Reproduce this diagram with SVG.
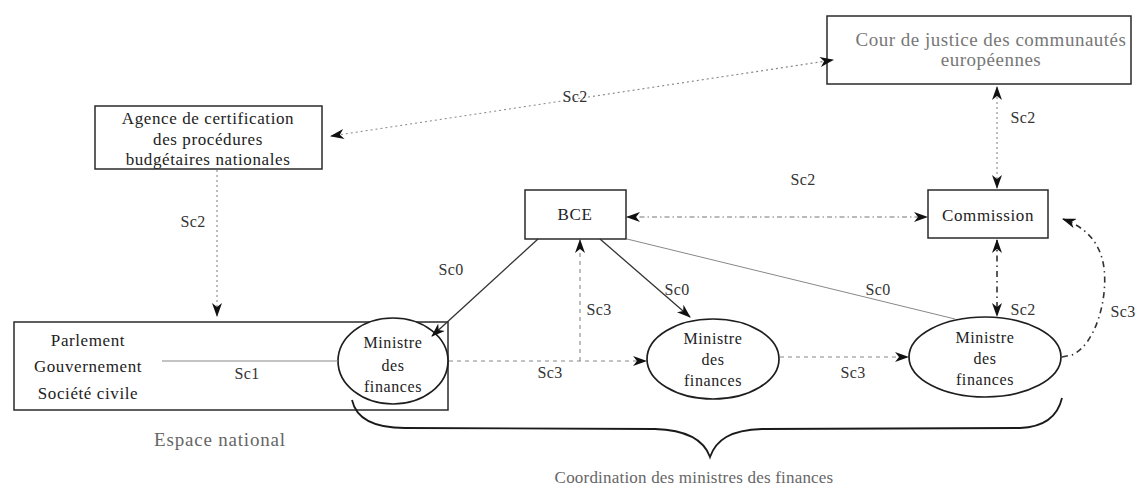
<svg xmlns="http://www.w3.org/2000/svg" width="1139" height="490" viewBox="0 0 1139 490" font-family="'Liberation Serif', serif">
<style>
.box{fill:#fff;stroke:#2a2a2a;stroke-width:1.5}
.ell{fill:#fff;stroke:#1e1e1e;stroke-width:1.7}
.t{font-family:"Liberation Serif",serif;font-size:17px;letter-spacing:0.6px;fill:#222;text-anchor:middle}
.te{font-family:"Liberation Serif",serif;font-size:16px;letter-spacing:0.6px;fill:#222;text-anchor:middle}
.lab{font-family:"Liberation Serif",serif;font-size:16px;letter-spacing:0.3px;fill:#333;text-anchor:middle}
.cap{font-family:"Liberation Serif",serif;fill:#666;text-anchor:middle}
.dot{fill:none;stroke:#888;stroke-width:1.1;stroke-dasharray:2 3}
.dash{fill:none;stroke:#888;stroke-width:1.1;stroke-dasharray:4 4}
.dd{fill:none;stroke:#777;stroke-width:1.2;stroke-dasharray:5 3 1.5 3}
.dd2{fill:none;stroke:#333;stroke-width:1.6;stroke-dasharray:6 4 1.5 4}
.solid{fill:none;stroke:#333;stroke-width:1.3}
.thin{fill:none;stroke:#888;stroke-width:1}
</style>
<defs>
<marker id="ah" viewBox="0 0 14 10" refX="13" refY="5" markerWidth="14" markerHeight="10" markerUnits="userSpaceOnUse" orient="auto-start-reverse">
<path d="M0,0 L14,5 L0,10 L4,5 Z" fill="#111"/>
</marker>
</defs>

<g id="cour">
<rect class="box" x="827" y="16" width="304" height="68"/>
<text class="t" x="991" y="46" style="font-size:19px;letter-spacing:0.5px;fill:#777">Cour de justice des communautés</text>
<text class="t" x="991" y="66" style="font-size:19px;letter-spacing:0.5px;fill:#777">européennes</text>
</g>

<g id="agence">
<rect class="box" x="95" y="106" width="227" height="63"/>
<text class="t" x="208" y="124">Agence de certification</text>
<text class="t" x="208" y="145">des procédures</text>
<text class="t" x="208" y="165">budgétaires nationales</text>
</g>

<g id="bce">
<rect class="box" x="525" y="190" width="101" height="49"/>
<text class="t" x="575" y="220">BCE</text>
</g>

<g id="commission">
<rect class="box" x="928" y="190" width="120" height="48"/>
<text class="t" x="988" y="221">Commission</text>
</g>

<g id="espace-national">
<rect class="box" x="14" y="322" width="434" height="88"/>
<text class="t" x="88" y="346">Parlement</text>
<text class="t" x="88" y="372">Gouvernement</text>
<text class="t" x="88" y="399">Société civile</text>
</g>

<g id="ministre1">
<ellipse class="ell" cx="393" cy="361" rx="55" ry="43"/>
<text class="te" x="393" y="348">Ministre</text>
<text class="te" x="393" y="371">des</text>
<text class="te" x="393" y="392">finances</text>
</g>

<g id="ministre2">
<ellipse class="ell" cx="713" cy="359" rx="66" ry="40"/>
<text class="te" x="713" y="344">Ministre</text>
<text class="te" x="713" y="365">des</text>
<text class="te" x="713" y="386">finances</text>
</g>

<g id="ministre3">
<ellipse class="ell" cx="985" cy="357" rx="76" ry="40"/>
<text class="te" x="985" y="343">Ministre</text>
<text class="te" x="985" y="364">des</text>
<text class="te" x="985" y="385">finances</text>
</g>

<g id="connectors">
<line class="dot" x1="331" y1="136" x2="833" y2="60" marker-start="url(#ah)" marker-end="url(#ah)"/>
<line class="dot" x1="217" y1="170" x2="217" y2="316" marker-end="url(#ah)"/>
<line class="dot" x1="997" y1="87" x2="997" y2="188" marker-start="url(#ah)" marker-end="url(#ah)"/>
<line class="dd" x1="627" y1="217" x2="927" y2="217" marker-start="url(#ah)" marker-end="url(#ah)"/>
<line class="dd2" x1="997" y1="240" x2="997" y2="316" marker-start="url(#ah)" marker-end="url(#ah)"/>
<line class="solid" x1="538" y1="239" x2="432" y2="336" marker-end="url(#ah)"/>
<line class="solid" x1="600" y1="239" x2="690" y2="317" marker-end="url(#ah)"/>
<line class="thin" x1="627" y1="239" x2="955" y2="319"/>
<line class="thin" x1="162" y1="361" x2="338" y2="361"/>
<line class="dash" x1="449" y1="361" x2="646" y2="361" marker-end="url(#ah)"/>
<line class="dash" x1="580" y1="361" x2="580" y2="240" marker-end="url(#ah)"/>
<line class="dash" x1="780" y1="357" x2="908" y2="357" marker-end="url(#ah)"/>
<path class="dd2" d="M1062,357 L1072,355 C1095,345 1108,300 1104,268 C1101,245 1088,228 1063,219" marker-end="url(#ah)"/>
<path fill="none" stroke="#1a1a1a" stroke-width="1.8" d="M352,400 C356,418 372,428 405,428 L655,429 C688,430 704,440 710,457 C716,440 730,430 762,429 L1020,428 C1045,427 1058,415 1062,398"/>
<text class="lab" x="575" y="102">Sc2</text>
<text class="lab" x="193" y="227">Sc2</text>
<text class="lab" x="1023" y="123">Sc2</text>
<text class="lab" x="803" y="185">Sc2</text>
<text class="lab" x="1023" y="315">Sc2</text>
<text class="lab" x="451" y="275">Sc0</text>
<text class="lab" x="677" y="295">Sc0</text>
<text class="lab" x="878" y="295">Sc0</text>
<text class="lab" x="599" y="315">Sc3</text>
<text class="lab" x="550" y="378">Sc3</text>
<text class="lab" x="853" y="378">Sc3</text>
<text class="lab" x="1123" y="317">Sc3</text>
<text class="lab" x="247" y="379">Sc1</text>
</g>

<g id="captions">
<text class="cap" x="220" y="446" style="font-size:19px;letter-spacing:0.8px">Espace national</text>
<text class="cap" x="694" y="483" style="font-size:17px;letter-spacing:0.2px">Coordination des ministres des finances</text>
</g>
</svg>
